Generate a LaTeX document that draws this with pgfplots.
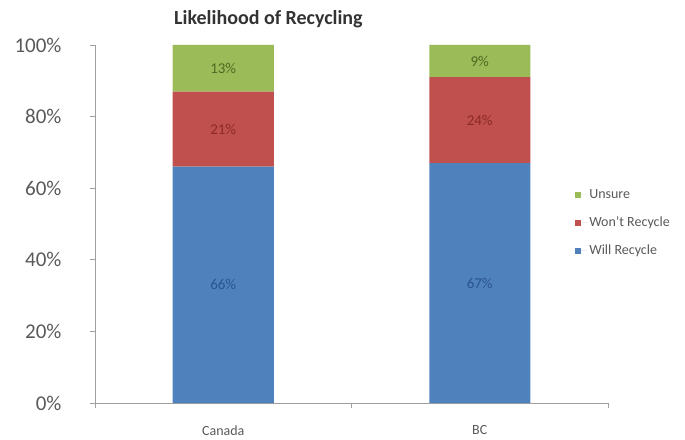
\documentclass[border=0pt]{standalone}
\usepackage{pgfplots}
\pgfplotsset{compat=1.18}
\usepackage{fontspec}
\setmainfont{Carlito}
\definecolor{cBlue}{HTML}{4F81BD}
\definecolor{cRed}{HTML}{C0504D}
\definecolor{cGreen}{HTML}{9BBB59}
\definecolor{tBlue}{HTML}{2A5590}
\definecolor{tRed}{HTML}{8C2A28}
\definecolor{tGreen}{HTML}{4F6A22}
\definecolor{axisgray}{HTML}{A0A0A0}
\definecolor{labgray}{HTML}{595959}
\pgfplotstableread{
x y
0.5 66
1.5 67
}\will
\pgfplotstableread{
x y
0.5 21
1.5 24
}\wont
\pgfplotstableread{
x y
0.5 13
1.5 9
}\unsure
\begin{document}
\begin{tikzpicture}
\path[use as bounding box] (-95pt,-36pt) rectangle (590pt,403pt);
\begin{axis}[
  at={(0pt,0pt)}, anchor=south west,
  scale only axis, width=513pt, height=358pt,
  ybar stacked, bar width=101pt,
  xmin=0, xmax=2, ymin=0, ymax=100,
  xtick={0.5,1.5}, xticklabels={Canada,BC},
  minor xtick={0,1,2},
  ytick={0,20,40,60,80,100},
  yticklabel={\pgfmathprintnumber{\tick}\%},
  /pgf/number format/assume math mode=true,
  axis x line*=bottom, axis y line*=left,
  axis line style={axisgray, line width=0.8pt},
  tick align=outside,
  major tick length=5pt, minor tick length=5pt,
  major x tick style={draw=none},
  every tick/.style={axisgray, line width=0.8pt},
  y tick label style={font=\fontsize{21}{24}\selectfont, text=labgray, xshift=-25pt},
  x tick label style={font=\fontsize{14}{16}\selectfont, text=labgray, yshift=-14pt},
  title={Likelihood of Recycling},
  title style={at={(0.338,1)}, anchor=center, yshift=20pt, font=\bfseries\fontsize{20}{24}\selectfont, text=black!80},
  reverse legend,
  legend cell align=left,
  legend style={at={(0.93,0.503)}, anchor=west, draw=none, fill=none,
    font=\fontsize{14}{16}\selectfont, text=labgray, row sep=13pt},
  legend image code/.code={\path (0pt,0pt) -- (12pt,0pt); \fill[#1, draw=none] (0pt,-3pt) rectangle (6pt,3pt);},
  nodes near coords={\pgfmathprintnumber{\pgfplotspointmeta}\%},
  every node near coord/.append style={anchor=center, font=\fontsize{15}{17}\selectfont},
  point meta=explicit,
]
\addplot[fill=cBlue, draw=none, every node near coord/.append style={text=tBlue}] table[x=x, y=y, meta=y] {\will};
\addlegendentry{Will Recycle}
\addplot[fill=cRed, draw=none, every node near coord/.append style={text=tRed}] table[x=x, y=y, meta=y] {\wont};
\addlegendentry{Won't Recycle}
\addplot[fill=cGreen, draw=none, every node near coord/.append style={text=tGreen}] table[x=x, y=y, meta=y] {\unsure};
\addlegendentry{Unsure}
\end{axis}
\end{tikzpicture}
\end{document}
